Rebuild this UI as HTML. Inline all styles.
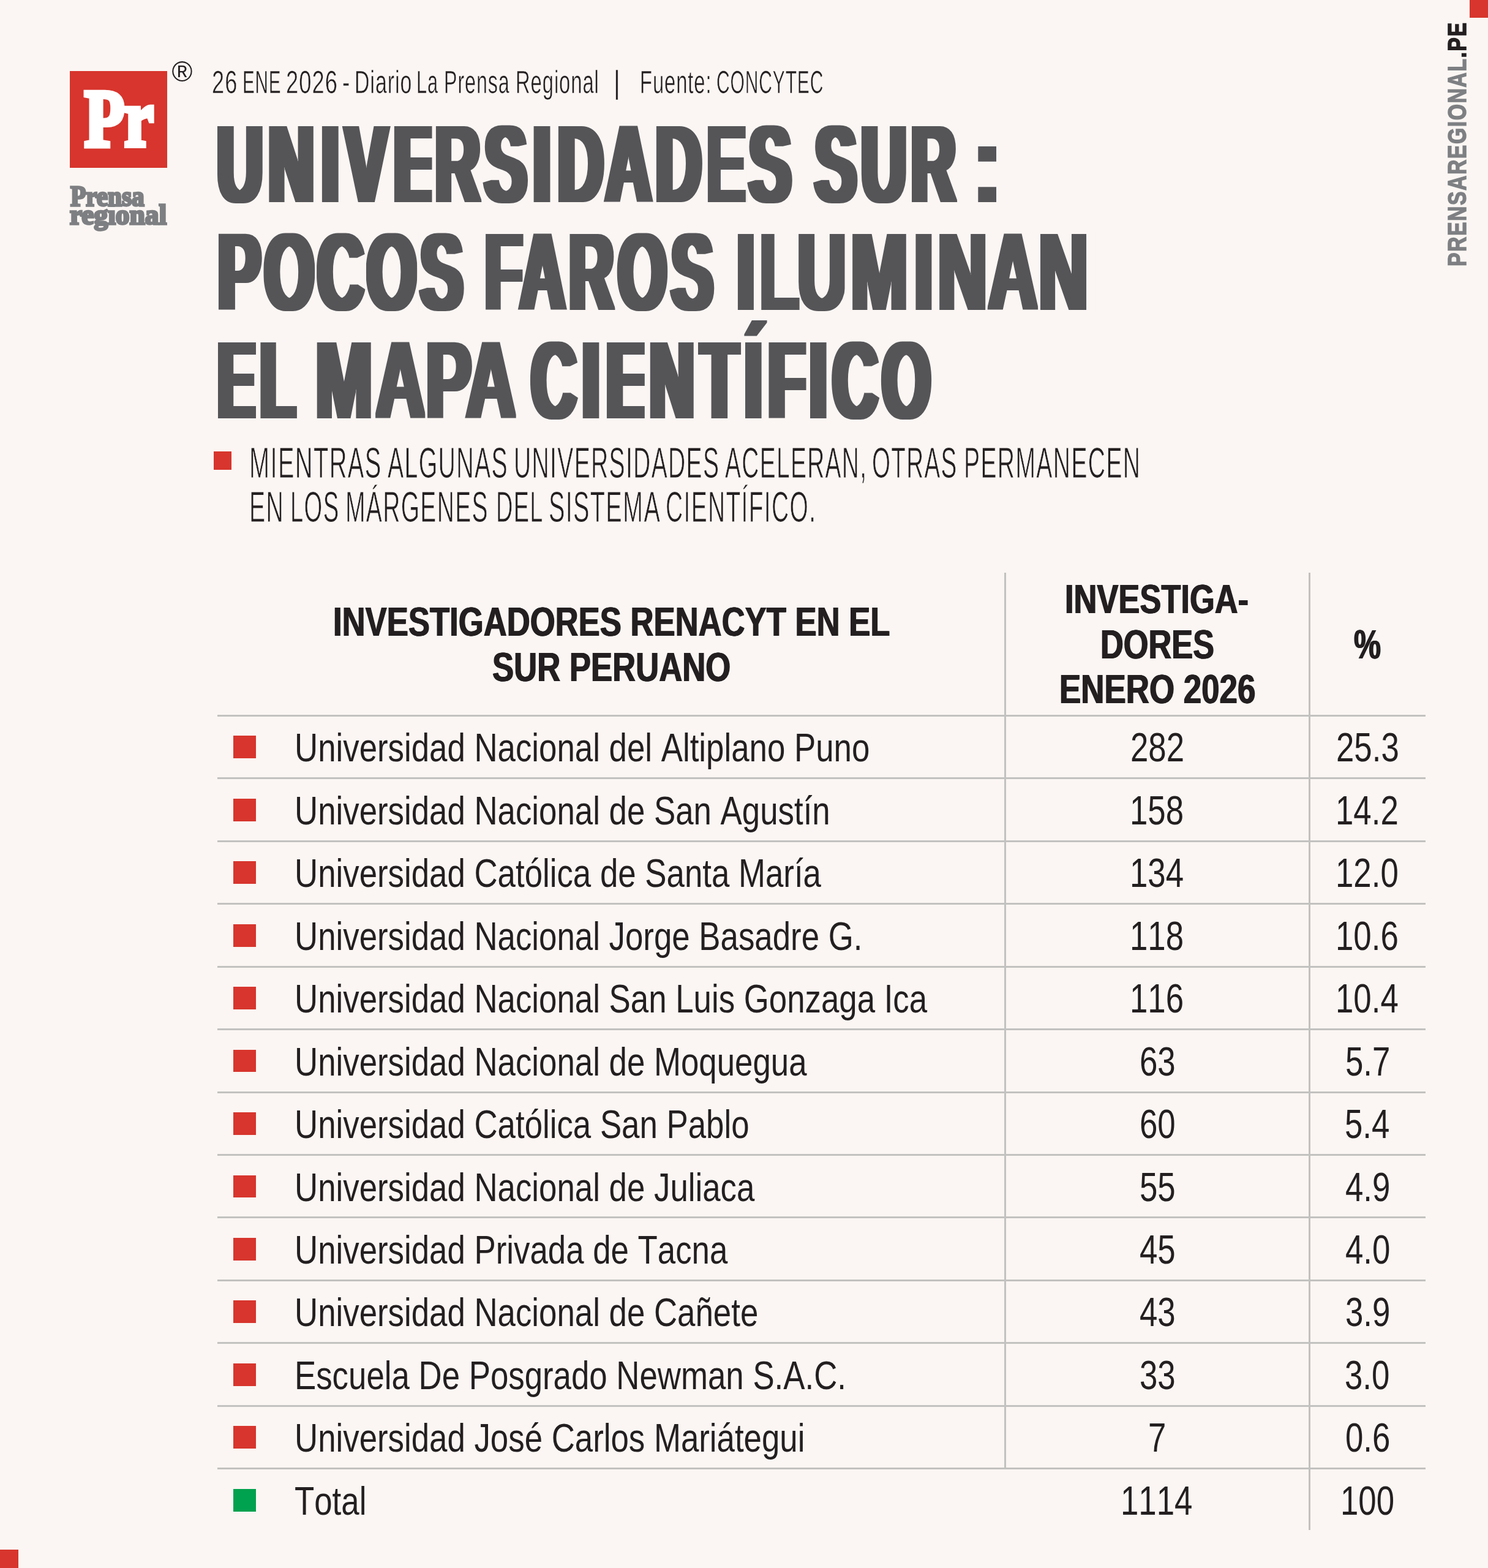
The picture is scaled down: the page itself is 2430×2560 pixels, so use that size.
<!DOCTYPE html>
<html lang="es">
<head>
<meta charset="utf-8">
<title>Universidades Sur: pocos faros iluminan el mapa científico</title>
<style>
html,body{margin:0;padding:0}
body{width:2430px;height:2560px;background:#fbf6f3;position:relative;overflow:hidden;font-family:"Liberation Sans",sans-serif}
h1{margin:0;font-size:inherit;font-weight:inherit}
.t{position:absolute;white-space:nowrap;line-height:1;transform-origin:0 0;margin:0}
.sq,.ln{position:absolute}
.ln{background:#c2c2c0}
.hl{position:absolute;left:0;top:0;overflow:visible}
.hl text{font-family:"Liberation Sans",sans-serif;font-weight:bold;font-size:180px;fill:#555558}
.meta{font-family:"Liberation Sans",sans-serif;font-weight:normal;font-size:52.4px;color:#231f20;letter-spacing:1.5px;-webkit-text-stroke:0.6px #fbf6f3;}
.sub{font-family:"Liberation Sans",sans-serif;font-weight:normal;font-size:69.6px;color:#231f20;letter-spacing:2.4px;-webkit-text-stroke:1px #fbf6f3;}
.td{font-family:"Liberation Sans",sans-serif;font-weight:normal;font-size:64.4px;color:#231f20;font-kerning:none;}
.nu{font-family:"Liberation Sans",sans-serif;font-weight:normal;font-size:67px;color:#231f20;font-kerning:none;}
.th{font-family:"Liberation Sans",sans-serif;font-weight:bold;font-size:67px;color:#231f20;font-kerning:none;text-shadow:0.9px 0 0 #231f20,-0.9px 0 0 #231f20;}
.pr{font-family:"Liberation Serif",serif;font-weight:bold;font-size:133px;color:#fff;-webkit-text-stroke:8px #fff;}
.lg{font-family:"Liberation Serif",serif;font-weight:bold;font-size:47px;color:#7d7f82;-webkit-text-stroke:3.4px #7d7f82;}
.brand{font-size:43.3px;font-weight:bold;font-kerning:none;letter-spacing:2px;color:transparent;-webkit-text-stroke:1.6px transparent;background:linear-gradient(90deg,#7d7f82 435.5px,#231f20 435.5px);-webkit-background-clip:text;background-clip:text}
.reg{font-size:46px;color:#231f20}</style>
</head>
<body>
<svg class="hl" width="2430" height="720" viewBox="0 0 2430 720" role="heading" aria-level="1">
<defs>
<filter id="hb0"><feMorphology operator="dilate" radius="10.51 0"/></filter>
<filter id="hb1"><feMorphology operator="dilate" radius="10.67 0"/></filter>
<filter id="hb2"><feMorphology operator="dilate" radius="8.48 0"/></filter>
<filter id="hb3"><feMorphology operator="dilate" radius="10.39 0"/></filter>
<filter id="hb4"><feMorphology operator="dilate" radius="10.64 0"/></filter>
<filter id="hb5"><feMorphology operator="dilate" radius="8.11 0"/></filter>
<filter id="hb6"><feMorphology operator="dilate" radius="11.67 0"/></filter>
<filter id="hb7"><feMorphology operator="dilate" radius="8.07 0"/></filter>
<filter id="hb8"><feMorphology operator="dilate" radius="10.68 0"/></filter>
</defs>
<text filter="url(#hb0)" transform="scale(0.5711 1)" x="621.2 767.9 919.3 987.7 1125.4 1242.5 1385.8 1524.5 1595.3 1732.3 1875.5 2012.3 2141.8" y="330">UNIVERSIDADES</text>
<text filter="url(#hb1)" transform="scale(0.5625 1)" x="2366.2 2500.9 2644.0" y="330">SUR</text>
<text filter="url(#hb2)" transform="scale(0.7072 1)" x="2249.6" y="330">:</text>
<text filter="url(#hb3)" transform="scale(0.5772 1)" x="616.7 748.4 898.2 1038.1 1189.5" y="506">POCOS</text>
<text filter="url(#hb4)" transform="scale(0.5641 1)" x="1401.1 1505.6 1645.8 1789.5 1943.9" y="506">FAROS</text>
<text filter="url(#hb5)" transform="scale(0.6164 1)" x="1951.0 2005.5 2113.1 2254.5 2422.2 2484.9 2618.4 2752.3" y="506">ILUMINAN</text>
<text filter="url(#hb6)" transform="scale(0.5142 1)" x="691.7 826.9" y="682.7">EL</text>
<text filter="url(#hb7)" transform="scale(0.6198 1)" x="831.3 989.8 1121.8 1228.7" y="682.7">MAPA</text>
<text filter="url(#hb8)" transform="scale(0.5620 1)" x="1543.9 1692.4 1761.6 1887.2 2035.8 2164.1 2232.3 2352.7 2420.0 2563.7" y="682.7">CIENTÍFICO</text>
<path fill="#fbf6f3" d="M340.7 202.3h14.0v131.7h-14.0zM429.0 202.3h8.7v131.7h-8.7zM513.6 202.3h11.6v131.7h-11.6zM553.4 202.3h3.4v131.7h-3.4zM640.0 202.3h3.6v131.7h-3.6zM705.5 202.3h6.4v131.7h-6.4zM786.3 202.3h1.7v131.7h-1.7zM862.4 202.3h8.4v131.7h-8.4zM899.1 202.3h11.2v131.7h-11.2zM1067.3 202.3h3.5v131.7h-3.5zM1148.3 202.3h7.6v131.7h-7.6zM1217.9 202.3h1.9v131.7h-1.9zM1294.2 202.3h33.3v131.7h-33.3zM1400.8 202.3h5.1v131.7h-5.1zM1480.4 202.3h8.6v131.7h-8.6zM1563.1 202.3h34.0v131.7h-34.0zM1627.0 202.3h14.0v131.7h-14.0zM341.9 378.4h14.0v131.6h-14.0zM428.7 378.4h1.6v131.6h-1.6zM514.4 378.4h2.7v131.6h-2.7zM596.3 378.4h1.6v131.6h-1.6zM681.2 378.4h2.4v131.6h-2.4zM757.9 378.4h35.2v131.6h-35.2zM926.8 378.4h3.7v131.6h-3.7zM1004.4 378.4h2.8v131.6h-2.8zM1090.7 378.4h2.1v131.6h-2.1zM1167.1 378.4h36.8v131.6h-36.8zM1232.1 378.4h11.2v131.6h-11.2zM1379.5 378.4h9.1v131.6h-9.1zM1483.1 378.4h11.3v131.6h-11.3zM1522.4 378.4h11.5v131.6h-11.5zM1609.5 378.4h3.2v131.6h-3.2zM1695.1 378.4h3.7v131.6h-3.7zM1774.2 378.4h14.0v131.6h-14.0zM341.9 555.2h14.0v131.5h-14.0zM418.0 555.2h6.4v131.5h-6.4zM485.9 555.2h28.5v131.5h-28.5zM609.1 555.2h4.0v131.5h-4.0zM694.3 555.2h3.7v131.5h-3.7zM842.7 555.2h22.7v131.5h-22.7zM944.4 555.2h6.4v131.5h-6.4zM979.6 555.2h11.2v131.5h-11.2zM1052.8 555.2h8.9v131.5h-8.9zM1135.2 555.2h4.8v131.5h-4.8zM1210.1 555.2h6.0v131.5h-6.0zM1244.5 555.2h10.8v131.5h-10.8zM1316.5 555.2h5.6v131.5h-5.6zM1350.4 555.2h7.5v131.5h-7.5zM1436.6 555.2h1.5v131.5h-1.5zM1522.1 555.2h14.0v131.5h-14.0z"/>
</svg>
<div class="t meta" style="left:346.4px;top:108px;transform:scaleX(0.6907);">26</div>
<div class="t meta" style="left:396.3px;top:108px;transform:scaleX(0.565);">ENE</div>
<div class="t meta" style="left:466.5px;top:108px;transform:scaleX(0.693);">2026</div>
<div class="t meta" style="left:558.6px;top:108px;transform:scaleX(0.7083);">-</div>
<div class="t meta" style="left:578.8px;top:108px;transform:scaleX(0.646);">Diario</div>
<div class="t meta" style="left:680px;top:108px;transform:scaleX(0.587);">La</div>
<div class="t meta" style="left:725.2px;top:108px;transform:scaleX(0.6149);">Prensa</div>
<div class="t meta" style="left:842px;top:108px;transform:scaleX(0.625);">Regional</div>
<div class="t meta" style="left:1001.9px;top:108px;transform:scaleX(0.8);">|</div>
<div class="t meta" style="left:1045px;top:108px;transform:scaleX(0.6244);">Fuente:</div>
<div class="t meta" style="left:1169.6px;top:108px;transform:scaleX(0.5726);">CONCYTEC</div>
<div class="sq" style="left:348.8px;top:737.4px;width:29.5px;height:29.5px;background:#d7352d"></div>
<div class="t sub" style="left:406.5px;top:722px;transform:scaleX(0.5717);">MIENTRAS</div>
<div class="t sub" style="left:632.6px;top:722px;transform:scaleX(0.5637);">ALGUNAS</div>
<div class="t sub" style="left:838.8px;top:722px;transform:scaleX(0.5608);">UNIVERSIDADES</div>
<div class="t sub" style="left:1184.3px;top:722px;transform:scaleX(0.5586);">ACELERAN,</div>
<div class="t sub" style="left:1423.6px;top:722px;transform:scaleX(0.5545);">OTRAS</div>
<div class="t sub" style="left:1573.6px;top:722px;transform:scaleX(0.5619);">PERMANECEN</div>
<div class="t sub" style="left:407px;top:794px;transform:scaleX(0.5632);">EN</div>
<div class="t sub" style="left:474.2px;top:794px;transform:scaleX(0.5493);">LOS</div>
<div class="t sub" style="left:564.3px;top:794px;transform:scaleX(0.5602);">MÁRGENES</div>
<div class="t sub" style="left:809.5px;top:794px;transform:scaleX(0.545);">DEL</div>
<div class="t sub" style="left:895.7px;top:794px;transform:scaleX(0.5683);">SISTEMA</div>
<div class="t sub" style="left:1087.4px;top:794px;transform:scaleX(0.5597);">CIENTÍFICO.</div>
<div class="t th" style="left:543.6px;top:981px;transform:scaleX(0.7856);">INVESTIGADORES RENACYT EN EL</div>
<div class="t th" style="left:803.8px;top:1055px;transform:scaleX(0.7862);">SUR PERUANO</div>
<div class="t th" style="left:1739.1px;top:944px;transform:scaleX(0.7826);">INVESTIGA-</div>
<div class="t th" style="left:1797px;top:1018px;transform:scaleX(0.7808);">DORES</div>
<div class="t th" style="left:1730.4px;top:1091px;transform:scaleX(0.7893);">ENERO 2026</div>
<div class="t th" style="left:2210.9px;top:1018px;transform:scaleX(0.7397);">%</div>
<div class="ln" style="left:355px;top:1167px;width:1973px;height:3px"></div>
<div class="sq" style="left:380.7px;top:1201.4px;width:36.9px;height:36.9px;background:#d7352d"></div>
<div class="t td" style="left:480.7px;top:1189px;transform:scaleX(0.82);">Universidad Nacional del Altiplano Puno</div>
<div class="t nu" style="left:1846.3px;top:1186px;transform:scaleX(0.788);">282</div>
<div class="t nu" style="left:2181.8px;top:1186px;transform:scaleX(0.788);">25.3</div>
<div class="ln" style="left:355px;top:1269px;width:1973px;height:3px"></div>
<div class="sq" style="left:380.7px;top:1303.8px;width:36.9px;height:36.9px;background:#d7352d"></div>
<div class="t td" style="left:480.7px;top:1292px;transform:scaleX(0.82);">Universidad Nacional de San Agustín</div>
<div class="t nu" style="left:1845.1px;top:1289px;transform:scaleX(0.788);">158</div>
<div class="t nu" style="left:2181.4px;top:1289px;transform:scaleX(0.788);">14.2</div>
<div class="ln" style="left:355px;top:1372px;width:1973px;height:3px"></div>
<div class="sq" style="left:380.7px;top:1406.3px;width:36.9px;height:36.9px;background:#d7352d"></div>
<div class="t td" style="left:480.7px;top:1394px;transform:scaleX(0.82);">Universidad Católica de Santa María</div>
<div class="t nu" style="left:1844.7px;top:1391px;transform:scaleX(0.788);">134</div>
<div class="t nu" style="left:2181px;top:1391px;transform:scaleX(0.788);">12.0</div>
<div class="ln" style="left:355px;top:1474px;width:1973px;height:3px"></div>
<div class="sq" style="left:380.7px;top:1508.8px;width:36.9px;height:36.9px;background:#d7352d"></div>
<div class="t td" style="left:480.7px;top:1497px;transform:scaleX(0.82);">Universidad Nacional Jorge Basadre G.</div>
<div class="t nu" style="left:1845.1px;top:1494px;transform:scaleX(0.788);">118</div>
<div class="t nu" style="left:2181px;top:1494px;transform:scaleX(0.788);">10.6</div>
<div class="ln" style="left:355px;top:1577px;width:1973px;height:3px"></div>
<div class="sq" style="left:380.7px;top:1611.2px;width:36.9px;height:36.9px;background:#d7352d"></div>
<div class="t td" style="left:480.7px;top:1599px;transform:scaleX(0.82);">Universidad Nacional San Luis Gonzaga Ica</div>
<div class="t nu" style="left:1845.1px;top:1596px;transform:scaleX(0.788);">116</div>
<div class="t nu" style="left:2180.6px;top:1596px;transform:scaleX(0.788);">10.4</div>
<div class="ln" style="left:355px;top:1679px;width:1973px;height:3px"></div>
<div class="sq" style="left:380.7px;top:1713.6px;width:36.9px;height:36.9px;background:#d7352d"></div>
<div class="t td" style="left:480.7px;top:1702px;transform:scaleX(0.82);">Universidad Nacional de Moquegua</div>
<div class="t nu" style="left:1860.5px;top:1699px;transform:scaleX(0.788);">63</div>
<div class="t nu" style="left:2196.8px;top:1699px;transform:scaleX(0.788);">5.7</div>
<div class="ln" style="left:355px;top:1782px;width:1973px;height:3px"></div>
<div class="sq" style="left:380.7px;top:1816.1px;width:36.9px;height:36.9px;background:#d7352d"></div>
<div class="t td" style="left:480.7px;top:1804px;transform:scaleX(0.82);">Universidad Católica San Pablo</div>
<div class="t nu" style="left:1860.5px;top:1801px;transform:scaleX(0.788);">60</div>
<div class="t nu" style="left:2196.4px;top:1801px;transform:scaleX(0.788);">5.4</div>
<div class="ln" style="left:355px;top:1884px;width:1973px;height:3px"></div>
<div class="sq" style="left:380.7px;top:1918.5px;width:36.9px;height:36.9px;background:#d7352d"></div>
<div class="t td" style="left:480.7px;top:1907px;transform:scaleX(0.82);">Universidad Nacional de Juliaca</div>
<div class="t nu" style="left:1860.5px;top:1904px;transform:scaleX(0.788);">55</div>
<div class="t nu" style="left:2197.2px;top:1904px;transform:scaleX(0.788);">4.9</div>
<div class="ln" style="left:355px;top:1986px;width:1973px;height:3px"></div>
<div class="sq" style="left:380.7px;top:2021px;width:36.9px;height:36.9px;background:#d7352d"></div>
<div class="t td" style="left:480.7px;top:2009px;transform:scaleX(0.82);">Universidad Privada de Tacna</div>
<div class="t nu" style="left:1860.8px;top:2006px;transform:scaleX(0.788);">45</div>
<div class="t nu" style="left:2196.8px;top:2006px;transform:scaleX(0.788);">4.0</div>
<div class="ln" style="left:355px;top:2089px;width:1973px;height:3px"></div>
<div class="sq" style="left:380.7px;top:2123.4px;width:36.9px;height:36.9px;background:#d7352d"></div>
<div class="t td" style="left:480.7px;top:2111px;transform:scaleX(0.82);">Universidad Nacional de Cañete</div>
<div class="t nu" style="left:1860.8px;top:2108px;transform:scaleX(0.788);">43</div>
<div class="t nu" style="left:2196.8px;top:2108px;transform:scaleX(0.788);">3.9</div>
<div class="ln" style="left:355px;top:2191px;width:1973px;height:3px"></div>
<div class="sq" style="left:380.7px;top:2225.9px;width:36.9px;height:36.9px;background:#d7352d"></div>
<div class="t td" style="left:480.7px;top:2214px;transform:scaleX(0.82);">Escuela De Posgrado Newman S.A.C.</div>
<div class="t nu" style="left:1860.5px;top:2211px;transform:scaleX(0.788);">33</div>
<div class="t nu" style="left:2196.4px;top:2211px;transform:scaleX(0.788);">3.0</div>
<div class="ln" style="left:355px;top:2294px;width:1973px;height:3px"></div>
<div class="sq" style="left:380.7px;top:2328.3px;width:36.9px;height:36.9px;background:#d7352d"></div>
<div class="t td" style="left:480.7px;top:2316px;transform:scaleX(0.82);">Universidad José Carlos Mariátegui</div>
<div class="t nu" style="left:1875.4px;top:2313px;transform:scaleX(0.788);">7</div>
<div class="t nu" style="left:2196.8px;top:2313px;transform:scaleX(0.788);">0.6</div>
<div class="ln" style="left:355px;top:2396px;width:1973px;height:3px"></div>
<div class="sq" style="left:380.7px;top:2430.8px;width:36.9px;height:36.9px;background:#00a14f"></div>
<div class="t td" style="left:480.7px;top:2419px;transform:scaleX(0.82);">Total</div>
<div class="t nu" style="left:1830.1px;top:2416px;transform:scaleX(0.788);">1114</div>
<div class="t nu" style="left:2188.5px;top:2416px;transform:scaleX(0.788);">100</div>
<div class="ln" style="left:1640.3px;top:935px;width:3px;height:1462.7px"></div>
<div class="ln" style="left:2137.3px;top:935px;width:3px;height:1563px"></div>
<div class="sq" style="left:2400px;top:0;width:30px;height:29px;background:#d7352d"></div>
<div class="sq" style="left:0;top:2530px;width:30px;height:30px;background:#d7352d"></div>
<div class="sq" style="left:114px;top:116px;width:159px;height:158px;background:#d7352d"></div>
<div class="t pr" style="left:137.5px;top:127px;transform:scaleX(0.8042);">Pr</div>
<div class="t lg" style="left:115.2px;top:297px;transform:scaleX(0.8777);">Prensa</div>
<div class="t lg" style="left:114.3px;top:327px;transform:scaleX(0.9665);">regional</div>
<div class="sq idot" style="left:176.5px;top:338px;width:13px;height:4.7px;background:#fbf6f3"></div>
<div class="t reg" style="left:280.5px;top:94px">®</div>
<div class="t brand" style="left:2358.2px;top:435px;transform:rotate(-90deg) scaleX(0.7791)">PRENSAREGIONAL.PE</div>
</body>
</html>
